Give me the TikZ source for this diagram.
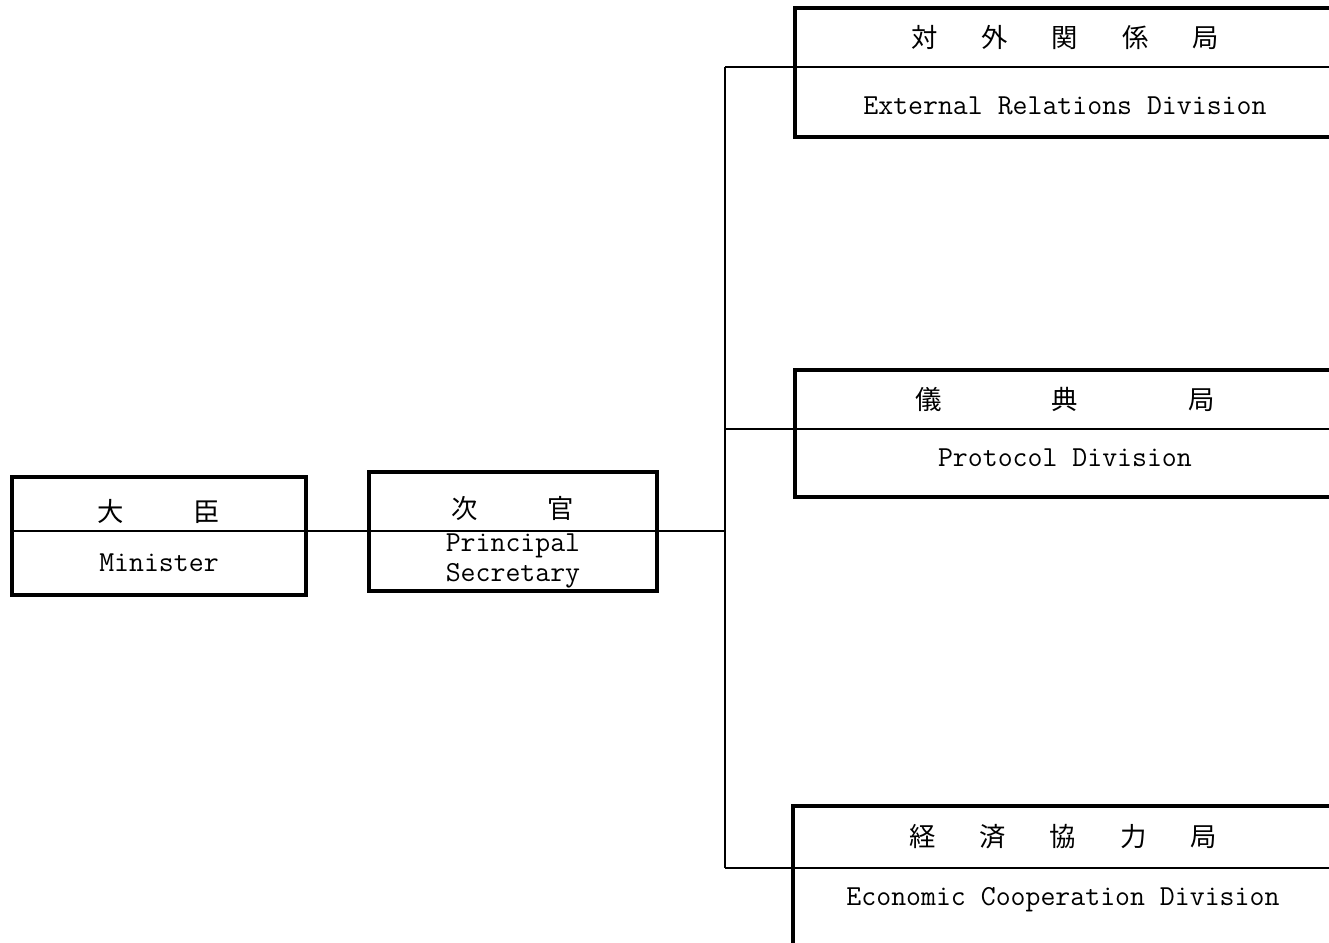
\documentclass[tikz,border=0pt]{standalone}
\usepackage{fontspec}
\newfontfamily\jpfont{Noto Sans CJK JP}
\usetikzlibrary{positioning}

\begin{document}
\begin{tikzpicture}[
    x=0.02cm, y=-0.02cm,
    head/.style={anchor=north west, inner sep=0pt, outer sep=0pt,
      font=\jpfont\fontsize{15}{17}\selectfont},
    body/.style={inner sep=0pt, outer sep=0pt, align=center,
      font=\ttfamily\fontsize{16.5}{17}\selectfont},
    frame/.style={line width=1.8pt},
    rule/.style={line width=1.1pt},
    link/.style={line width=1.1pt}
  ]
  \path[use as bounding box, fill=white] (0,0) rectangle (1329,943);

  % minister and secretary
  \node[head, minimum width=5.88cm, minimum height=1.08cm, text height=0.74cm] (minj) at (12,477)
    {大\hspace{14mm}臣};
  \node[body, below=0pt of minj, minimum width=5.88cm, minimum height=1.28cm] (mine)
    {Minister};

  \node[head, minimum width=5.76cm, minimum height=1.18cm, text height=0.74cm] (secj) at (369,472)
    {次\hspace{14mm}官};
  \node[body, below=0pt of secj, minimum width=5.76cm, minimum height=1.2cm] (sece)
    {Principal\\Secretary};

  % divisions (cut off at the right)
  \node[head, minimum width=10.8cm, minimum height=1.18cm] (extj) at (795,8)
    {対\hspace{8.8mm}外\hspace{8.8mm}関\hspace{8.8mm}係\hspace{8.8mm}局};
  \node[body, below=0pt of extj, minimum width=10.8cm, minimum height=1.4cm,
    text height=0.51cm] (exte)
    {External Relations Division};

  \node[head, minimum width=10.8cm, minimum height=1.18cm] (protj) at (795,370)
    {儀\hspace{22mm}典\hspace{22mm}局};
  \node[body, below=0pt of protj, minimum width=10.8cm, minimum height=1.36cm,
    text depth=0.2cm] (prote)
    {Protocol Division};

  \node[head, minimum width=10.8cm, minimum height=1.24cm] (ecoj) at (793,806)
    {経\hspace{8.8mm}済\hspace{8.8mm}協\hspace{8.8mm}力\hspace{8.8mm}局};
  \node[body, below=0pt of ecoj, minimum width=10.8cm, minimum height=2.24cm,
    text depth=1.1cm] (ecoe)
    {Economic Cooperation Division};

  % box outlines
  \foreach \j/\e in {minj/mine, secj/sece, extj/exte, protj/prote, ecoj/ecoe} {
    \draw[frame] (\j.north west) rectangle (\e.south east);
    \draw[rule] (\j.south west) -- (\j.south east);
  }

  % connectors
  \coordinate (trunk) at (725,531);
  \draw[link] (minj.south east) -- (secj.south west);
  \draw[link] (secj.south east) -- (trunk);
  \draw[link] (trunk |- extj.south) -- (trunk |- ecoj.south);
  \draw[link] (trunk |- extj.south) -- (extj.south west);
  \draw[link] (trunk |- protj.south) -- (protj.south west);
  \draw[link] (trunk |- ecoj.south) -- (ecoj.south west);
\end{tikzpicture}
\end{document}
